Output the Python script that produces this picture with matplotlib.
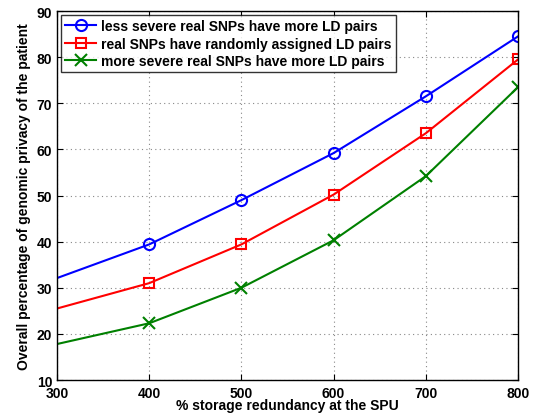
import matplotlib
matplotlib.use("Agg")
import matplotlib.pyplot as plt

x = [300, 400, 500, 600, 700, 800]
less_severe = [32.1, 39.4, 49.0, 59.2, 71.5, 84.5]
random_ld = [25.5, 31.0, 39.4, 50.2, 63.5, 79.5]
more_severe = [17.8, 22.3, 30.0, 40.3, 54.2, 73.5]
labels = ["less severe real SNPs have more LD pairs",
          "real SNPs have randomly assigned LD pairs",
          "more severe real SNPs have more LD pairs"]

plt.rcParams['font.family'] = ['Liberation Sans', 'DejaVu Sans']
plt.rcParams['font.weight'] = 'bold'

fig = plt.figure(figsize=(5.45, 4.14), dpi=100)
ax = fig.add_axes([0.1046, 0.0797, 0.8459, 0.8913])

ax.plot(x, less_severe, '-o', color='#0000ff', lw=1.5, ms=8, mfc='none', mew=1.5, markevery=list(range(1, 6)), label=labels[0])
ax.plot(x, random_ld, '-s', color='#ff0000', lw=1.5, ms=7, mfc='none', mew=1.5, markevery=list(range(1, 6)), label=labels[1])
ax.plot(x, more_severe, '-x', color='#008000', lw=1.5, ms=9, mew=1.5, markevery=list(range(1, 6)), label=labels[2])

ax.set_xlim(300, 800)
ax.set_ylim(10, 90)
ax.set_xticks(range(300, 801, 100))
ax.set_yticks(range(10, 91, 10))
ax.grid(True, linestyle=(0, (1, 3)), color='#888888', lw=0.8)
ax.tick_params(direction='in', top=True, right=True, labelsize=10, length=4)
ax.tick_params(axis='x', pad=4)
for lab in ax.get_xticklabels() + ax.get_yticklabels():
    lab.set_fontweight('bold')
for s in ax.spines.values():
    s.set_linewidth(1.0)

ax.set_xlabel("% storage redundancy at the SPU", fontsize=10, fontweight='bold', labelpad=-1)
ax.set_ylabel("Overall percentage of genomic privacy of the patient", fontsize=10, fontweight='bold', labelpad=4)

leg = ax.legend(loc='upper left', fontsize=10, frameon=True, fancybox=False, edgecolor='black',
                borderaxespad=0.3, handlelength=2.2, labelspacing=0.25, borderpad=0.3, handletextpad=0.4)
leg.get_frame().set_linewidth(1.0)
for t in leg.get_texts():
    t.set_fontweight('bold')

fig.savefig("out.png", dpi=100)
